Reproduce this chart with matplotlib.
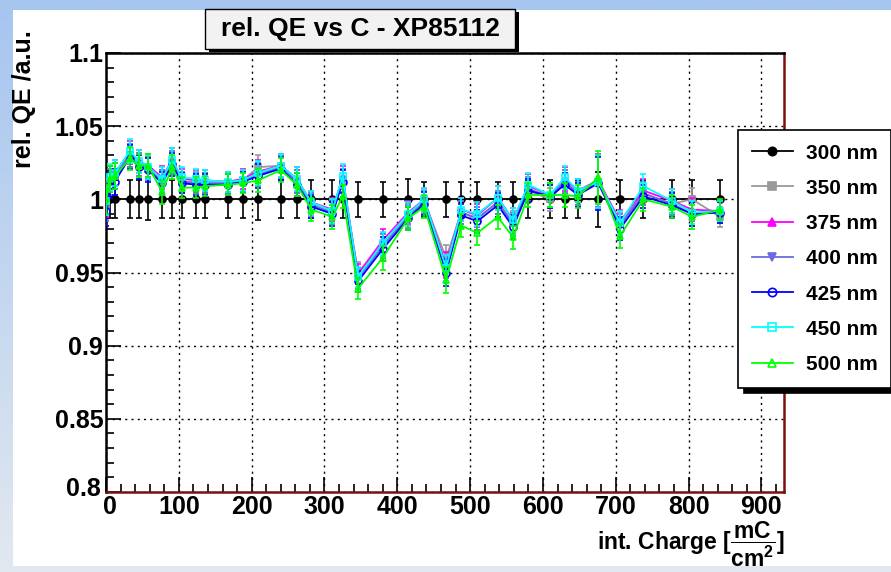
import numpy as np
import matplotlib.pyplot as plt
from matplotlib.patches import Rectangle
from matplotlib.lines import Line2D
from matplotlib.ticker import MultipleLocator
from matplotlib.colors import LinearSegmentedColormap
from matplotlib.transforms import ScaledTranslation

plt.rcParams['font.family'] = ['Liberation Sans', 'DejaVu Sans']
plt.rcParams['font.weight'] = 'bold'
plt.rcParams['mathtext.fontset'] = 'custom'
plt.rcParams['mathtext.bf'] = 'Liberation Sans:bold'
plt.rcParams['mathtext.rm'] = 'Liberation Sans:bold'

# integrated charge [mC/cm^2]
charge = [0, 5, 12, 33, 45, 58, 77, 91, 104, 124, 136, 167, 188, 209, 240, 262,
          282, 311, 325, 346, 380, 415, 437, 467, 488, 510, 538, 559, 580, 610,
          630, 648, 676, 706, 738, 777, 805, 843]

qe_300 = [1.0] * len(charge)
qe_350 = [0.996, 1.012, 1.016, 1.030, 1.024, 1.021, 1.012, 1.025, 1.012, 1.012, 1.011, 1.011, 1.013, 1.022, 1.023, 1.012,
          0.997, 0.992, 1.013, 0.950, 0.969, 0.989, 0.999, 0.960, 0.991, 0.987, 0.998, 0.984, 1.006, 1.000,
          1.012, 1.004, 1.012, 0.983, 1.004, 0.997, 1.000, 0.988]
qe_375 = [0.998, 1.014, 1.018, 1.032, 1.026, 1.023, 1.015, 1.027, 1.014, 1.013, 1.013, 1.012, 1.014, 1.019, 1.023, 1.014,
          0.998, 0.993, 1.015, 0.949, 0.972, 0.991, 1.000, 0.955, 0.993, 0.989, 1.001, 0.986, 1.009, 1.003,
          1.014, 1.006, 1.013, 0.985, 1.006, 0.999, 0.993, 0.992]
qe_400 = [0.995, 1.012, 1.016, 1.030, 1.024, 1.021, 1.012, 1.025, 1.012, 1.011, 1.011, 1.011, 1.012, 1.017, 1.022, 1.012,
          0.996, 0.991, 1.013, 0.946, 0.968, 0.988, 0.998, 0.952, 0.991, 0.987, 0.998, 0.983, 1.007, 1.002,
          1.012, 1.004, 1.012, 0.982, 1.004, 0.997, 0.990, 0.991]
qe_425 = [0.992, 1.010, 1.012, 1.029, 1.022, 1.020, 1.011, 1.024, 1.011, 1.010, 1.010, 1.010, 1.012, 1.016, 1.021, 1.010,
          0.995, 0.990, 1.012, 0.944, 0.966, 0.987, 0.997, 0.950, 0.989, 0.985, 0.996, 0.981, 1.006, 1.002,
          1.010, 1.003, 1.011, 0.980, 1.002, 0.996, 0.990, 0.991]
qe_450 = [0.999, 1.015, 1.018, 1.033, 1.026, 1.022, 1.014, 1.027, 1.015, 1.014, 1.013, 1.012, 1.013, 1.018, 1.023, 1.014,
          0.998, 0.992, 1.016, 0.947, 0.970, 0.990, 1.000, 0.953, 0.993, 0.990, 1.001, 0.986, 1.010, 1.003,
          1.015, 1.006, 1.012, 0.984, 1.009, 0.999, 0.991, 0.992]
qe_500 = [1.000, 1.014, 1.016, 1.028, 1.023, 1.023, 1.005, 1.022, 1.008, 1.008, 1.009, 1.010, 1.011, 1.013, 1.020, 1.010,
          0.993, 0.988, 1.002, 0.939, 0.960, 0.987, 0.995, 0.945, 0.982, 0.977, 0.988, 0.974, 1.003, 1.003,
          1.003, 1.002, 1.015, 0.975, 1.000, 0.995, 0.988, 0.993]

err_300 = [0.013, 0.013, 0.013, 0.013, 0.013, 0.014, 0.013, 0.013, 0.013, 0.013, 0.013, 0.013, 0.013, 0.014, 0.013, 0.013,
           0.013, 0.013, 0.013, 0.012, 0.012, 0.014, 0.012, 0.012, 0.012, 0.012, 0.012, 0.012, 0.013, 0.013,
           0.013, 0.013, 0.019, 0.013, 0.013, 0.013, 0.013, 0.013]
err_col = [0.010, 0.009, 0.009, 0.008, 0.008, 0.008, 0.008, 0.008, 0.007, 0.007, 0.007, 0.007, 0.007, 0.008, 0.008, 0.008,
           0.008, 0.008, 0.008, 0.007, 0.008, 0.008, 0.008, 0.009, 0.008, 0.008, 0.008, 0.008, 0.008, 0.008,
           0.008, 0.008, 0.018, 0.008, 0.008, 0.008, 0.008, 0.007]

labels = ['300 nm', '350 nm', '375 nm', '400 nm', '425 nm', '450 nm', '500 nm']
series = [qe_300, qe_350, qe_375, qe_400, qe_425, qe_450, qe_500]
colors = ['black', '#999999', '#ff00ff', '#6a6ae0', '#0000ff', '#00ffff', '#00ff00']
markers = ['o', 's', '^', 'v', 'o', 's', '^']
filled = [True, True, True, True, False, False, False]

fig = plt.figure(figsize=(8.91, 5.72), dpi=100)

# background frame: bluish gradient on the left/top, white pad
bg = fig.add_axes([0, 0, 1, 1], zorder=-10)
grad = np.linspace(0, 1, 256).reshape(-1, 1)
cmap = LinearSegmentedColormap.from_list('bg', ['#a6c5ef', '#e2e8f0'])
bg.imshow(grad, aspect='auto', cmap=cmap, extent=[0, 1, 0, 1], origin='upper')
bg.add_patch(Rectangle((13 / 891, 6 / 572), 1, 1 - 16 / 572, facecolor='white', edgecolor='none'))
bg.set_xlim(0, 1)
bg.set_ylim(0, 1)
bg.axis('off')

ax = fig.add_axes([106 / 891, 1 - 492 / 572, (784 - 106) / 891, (492 - 53) / 572])
for i, (lab, y) in enumerate(zip(labels, series)):
    err = err_300 if i == 0 else err_col
    ax.errorbar(charge, y, yerr=err, color=colors[i], marker=markers[i], ms=5,
                mfc=colors[i] if filled[i] else 'none', mec=colors[i], mew=1.2,
                lw=1.3, elinewidth=1.2, capsize=2, capthick=1.2, zorder=3 + i)

ax.set_xlim(0, 931)
ax.set_ylim(0.8, 1.1)
ax.set_xticks(range(0, 1000, 100))
ax.set_yticks([0.8, 0.85, 0.9, 0.95, 1.0, 1.05, 1.1])
ax.set_yticklabels(['0.8', '0.85', '0.9', '0.95', '1', '1.05', '1.1'])
ax.xaxis.set_minor_locator(MultipleLocator(20))
ax.yaxis.set_minor_locator(MultipleLocator(0.01))
ax.tick_params(which='both', direction='in', top=False, right=False, labelsize=18, width=1.2)
ax.tick_params(which='major', length=11)
ax.tick_params(which='minor', length=6)
ax.tick_params(axis='x', pad=2)
ax.tick_params(axis='y', pad=2)
ax.grid(True, which='major', linestyle=(0, (1.5, 3)), color='black', lw=1)
for s in ax.spines.values():
    s.set_linewidth(1.8)
ax.spines['bottom'].set_color('#7a1010')
ax.spines['right'].set_color('#7a1010')

# nudge the corner labels apart like the original
fig.canvas.draw()
ylab0 = ax.get_yticklabels()[0]
ylab0.set_transform(ylab0.get_transform() + ScaledTranslation(-2 / 100, 5 / 100, fig.dpi_scale_trans))
xlab0 = ax.get_xticklabels()[0]
xlab0.set_transform(xlab0.get_transform() + ScaledTranslation(4 / 100, 0, fig.dpi_scale_trans))

fig.text(24 / 891, 1 - 30 / 572, 'rel. QE /a.u.', rotation=90, ha='center', va='top',
         fontsize=18, fontweight='bold')
fig.text(785 / 891, 1 - 520 / 572, r'int. Charge [$\mathbf{\dfrac{mC}{cm^{2}}}$]',
         ha='right', va='top', fontsize=16.5, fontweight='bold')

# title box with shadow
fig.patches.append(Rectangle((209 / 891, 1 - 52 / 572), 310 / 891, 40 / 572,
                             transform=fig.transFigure, facecolor='black', edgecolor='none', zorder=5))
fig.patches.append(Rectangle((205 / 891, 1 - 49 / 572), 310 / 891, 40 / 572,
                             transform=fig.transFigure, facecolor='#f2f2f2', edgecolor='black', lw=1, zorder=6))
fig.text(360 / 891, 1 - 29 / 572, 'rel. QE vs C - XP85112', ha='center', va='center',
         fontsize=19, fontweight='bold', zorder=7)

# legend: line + marker only
handles = [Line2D([], [], color=colors[i], marker=markers[i], ms=6, lw=1.3,
                  mfc=colors[i] if filled[i] else 'none', mec=colors[i], mew=1.2)
           for i in range(len(labels))]
leg = ax.legend(handles, labels, loc='upper left', bbox_to_anchor=(738 / 891, 1 - 130 / 572),
                bbox_transform=fig.transFigure, fontsize=15, frameon=True, fancybox=False,
                edgecolor='black', framealpha=1, shadow={'color': 'black', 'alpha': 1, 'ox': 4, 'oy': -4},
                handlelength=2.0, handletextpad=0.6, labelspacing=0.78, borderpad=0.65,
                borderaxespad=0)
leg.get_frame().set_linewidth(1.2)

fig.savefig('out.png', dpi=100)
